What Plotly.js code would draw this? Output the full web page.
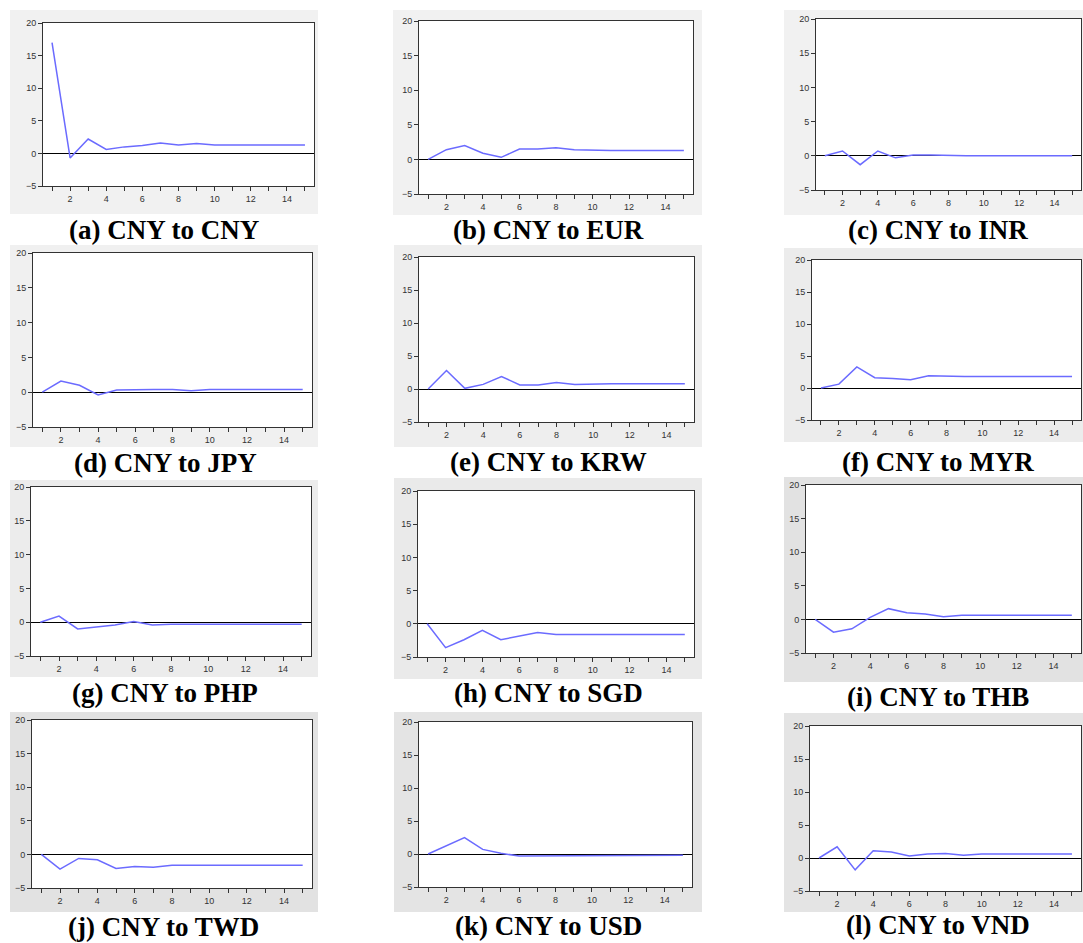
<!DOCTYPE html>
<html>
<head>
<meta charset="utf-8">
<script src="https://cdn.plot.ly/plotly-3.0.1.min.js"></script>
<style>html,body{margin:0;padding:0;background:#fff;}#chart{width:1083px;height:943px;}</style>
</head>
<body>
<div id="chart"></div>
<script>
// ---- data ----
const periods = [1,2,3,4,5,6,7,8,9,10,11,12,13,14,15];
const cnyToCny = [17.0,-0.7,2.2,0.6,1.0,1.2,1.6,1.3,1.5,1.3,1.3,1.3,1.3,1.3,1.3];
const cnyToEur = [0.0,1.4,2.0,0.9,0.3,1.5,1.5,1.7,1.4,1.3,1.3,1.3,1.3,1.3,1.3];
const cnyToInr = [0.0,0.7,-1.3,0.7,-0.3,0.1,0.1,0.0,0.0,0.0,0.0,0.0,0.0,0.0,0.0];
const cnyToJpy = [0.0,1.6,1.0,-0.4,0.3,0.4,0.4,0.4,0.2,0.4,0.4,0.4,0.4,0.4,0.4];
const cnyToKrw = [0.0,2.8,0.1,0.7,1.9,0.6,0.6,1.0,0.7,0.8,0.8,0.8,0.8,0.8,0.8];
const cnyToMyr = [0.0,0.6,3.3,1.6,1.5,1.3,1.9,1.8,1.8,1.8,1.8,1.8,1.8,1.8,1.8];
const cnyToPhp = [0.0,0.9,-1.0,-0.7,-0.4,0.1,-0.4,-0.3,-0.3,-0.3,-0.3,-0.3,-0.3,-0.3,-0.3];
const cnyToSgd = [0.0,-3.6,-2.4,-1.0,-2.4,-1.9,-1.3,-1.6,-1.6,-1.6,-1.6,-1.6,-1.6,-1.6,-1.6];
const cnyToThb = [0.0,-1.9,-1.4,0.3,1.6,1.0,0.8,0.4,0.6,0.6,0.6,0.6,0.6,0.6,0.6];
const cnyToTwd = [0.0,-2.2,-0.6,-0.8,-2.1,-1.8,-1.9,-1.6,-1.6,-1.6,-1.6,-1.6,-1.6,-1.6,-1.6];
const cnyToUsd = [0.0,1.3,2.5,0.7,0.1,-0.3,-0.3,-0.3,-0.2,-0.2,-0.2,-0.2,-0.2,-0.2,-0.2];
const cnyToVnd = [0.0,1.7,-1.8,1.1,0.9,0.3,0.6,0.7,0.4,0.6,0.6,0.6,0.6,0.6,0.6];
const captions = ["(a) CNY to CNY","(b) CNY to EUR","(c) CNY to INR","(d) CNY to JPY",
  "(e) CNY to KRW","(f) CNY to MYR","(g) CNY to PHP","(h) CNY to SGD",
  "(i) CNY to THB","(j) CNY to TWD","(k) CNY to USD","(l) CNY to VND"];
const yTickVals = [-5,0,5,10,15,20];

// ---- layout geometry (pixels) ----
const W = 1083, H = 943;
const series = [cnyToCny,cnyToEur,cnyToInr,cnyToJpy,cnyToKrw,cnyToMyr,cnyToPhp,cnyToSgd,cnyToThb,cnyToTwd,cnyToUsd,cnyToVnd];
// plot areas [x0,x1,y0,y1]
const plots = [
  [43,314,23,186],[419,693,21,194],[816,1081,19,190],
  [33,312,253,427],[419,694,257,422],[812,1081,260,420],
  [31,311,487,656],[418,694,491,657],[806,1081,485,653],
  [32,312,720,888],[419,692,722,887],[810,1081,726,891]
];
// gray frames
const frames = [
  [10,318,10,214],[393,702,10,215],[784,1083,10,215],
  [10,318,245,447],[394,702,245,447],[784,1083,248,442],
  [10,318,480,677],[394,702,478,679],[784,1083,477,682],
  [10,318,712,912],[394,702,712,912],[784,1083,713,912]
];
const frameColors = ['#f1f1f1','#f1f1f1','#f1f1f1','#f0f0f0','#eeeeee','#ececec',
  '#ececec','#eaeaea','#e2e2e2','#e2e2e2','#e4e4e4','#e4e4e4'];
const capPos = [[164,230],[548,230],[938,230],[165,463],[548,462],[938,462],
  [165,693],[548,693],[938,697],[163,927],[548,926],[938,925]];

const px = x => x / W;
const py = y => 1 - y / H;

const data = [];
const layout = {
  width: W, height: H,
  margin: {l:0, r:0, t:0, b:0},
  paper_bgcolor: '#ffffff',
  plot_bgcolor: '#ffffff',
  showlegend: false,
  shapes: [],
  annotations: []
};

for (let i = 0; i < 12; i++) {
  const n = i === 0 ? '' : String(i + 1);
  const [x0,x1,y0,y1] = plots[i];
  const [fx0,fx1,fy0,fy1] = frames[i];
  layout.shapes.push({type:'rect', xref:'paper', yref:'paper', layer:'below',
    x0:px(fx0), x1:px(fx1), y0:py(fy1), y1:py(fy0),
    fillcolor:frameColors[i], line:{width:0}});
  layout.shapes.push({type:'rect', xref:'paper', yref:'paper', layer:'below',
    x0:px(x0), x1:px(x1), y0:py(y1), y1:py(y0),
    fillcolor:'#ffffff', line:{width:0}});
  data.push({
    type:'scatter', mode:'lines', x: periods, y: series[i],
    xaxis:'x'+n, yaxis:'y'+n,
    line:{color:'#6b6bff', width:1.5},
    hoverinfo:'skip'
  });
  layout['xaxis'+n] = {
    domain:[px(x0), px(x1)], anchor:'y'+n,
    range:[0.5,15.5], tick0:0, dtick:2,
    ticks:'outside', ticklen:4, tickwidth:1, tickcolor:'#333',
    minor:{dtick:1, ticks:'outside', ticklen:4, tickwidth:1, tickcolor:'#333'},
    showgrid:false, zeroline:false,
    showline:true, mirror:true, linecolor:'#333', linewidth:1,
    tickfont:{family:'Liberation Sans, Arial, sans-serif', size:9, color:'#333'},
    fixedrange:true
  };
  layout['yaxis'+n] = {
    domain:[py(y1), py(y0)], anchor:'x'+n,
    range:[-5,20], tickvals:yTickVals,
    ticks:'outside', ticklen:4, tickwidth:1, tickcolor:'#333',
    showgrid:false, zeroline:true, zerolinecolor:'#000', zerolinewidth:1,
    showline:true, mirror:true, linecolor:'#333', linewidth:1,
    tickfont:{family:'Liberation Sans, Arial, sans-serif', size:9, color:'#333'},
    fixedrange:true
  };
  layout.annotations.push({
    xref:'paper', yref:'paper', x:px(capPos[i][0]), y:py(capPos[i][1]),
    xanchor:'center', yanchor:'middle', showarrow:false,
    text:'<b>'+captions[i]+'</b>',
    font:{family:'Liberation Serif, Times New Roman, serif', size:27, color:'#000'}
  });
}

Plotly.newPlot('chart', data, layout, {staticPlot:true, displayModeBar:false});
</script>
</body>
</html>
